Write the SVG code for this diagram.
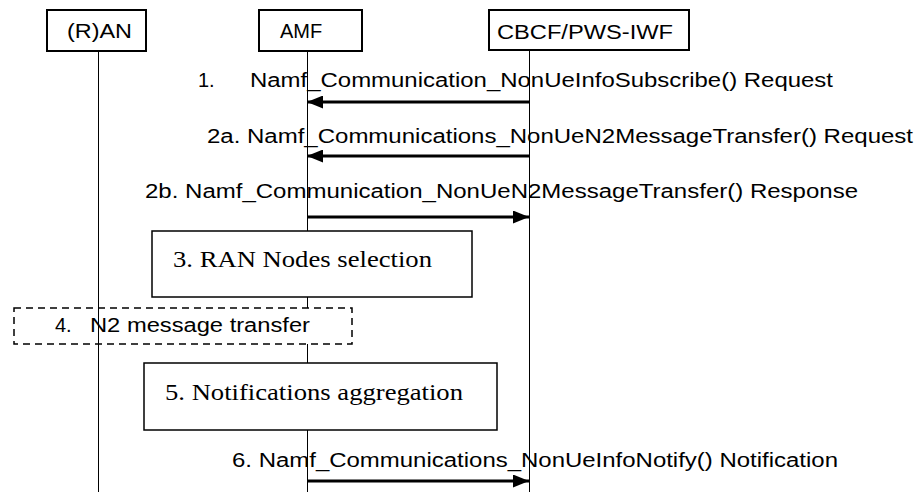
<svg xmlns="http://www.w3.org/2000/svg" width="920" height="492" viewBox="0 0 920 492">
<style>
.hdr{fill:#fff;stroke:#000;stroke-width:2}
.box{fill:#fff;stroke:#000;stroke-width:1.5}
.dbox{fill:#fff;stroke:#000;stroke-width:1.5;stroke-dasharray:7 5}
.life{stroke:#000;stroke-width:1;fill:none}
.msg{stroke:#000;stroke-width:3;fill:none}
.s{font-family:"Liberation Sans",Arial,sans-serif;font-size:20px;fill:#000}
.t{font-family:"Liberation Serif","Times New Roman",serif;font-size:24px;fill:#000}
</style>
<defs>
<marker id="ah" viewBox="0 0 16 13" refX="16" refY="6.5" markerWidth="16" markerHeight="13" markerUnits="userSpaceOnUse" orient="auto">
<path d="M0,0 L16,6.5 L0,13 Z" fill="#000"/>
</marker>
</defs>
<g id="lifeline-amf"><line class="life" x1="307.5" y1="51" x2="307.5" y2="492"/></g>
<g id="ran"><rect class="hdr" x="47" y="10" width="99" height="41"/><text class="s" x="67" y="38" textLength="65" lengthAdjust="spacingAndGlyphs">(R)AN</text></g>
<g id="amf"><rect class="hdr" x="259" y="10" width="103" height="41"/><text class="s" x="280" y="38">AMF</text></g>
<g id="cbcf"><rect class="hdr" x="489" y="10" width="200" height="40"/><text class="s" x="497" y="39" textLength="176" lengthAdjust="spacingAndGlyphs">CBCF/PWS-IWF</text></g>
<g id="step3"><rect class="box" x="152" y="231" width="320" height="66"/><text class="t" x="173" y="267" textLength="259" lengthAdjust="spacingAndGlyphs">3. RAN Nodes selection</text></g>
<g id="step4"><rect class="dbox" x="14" y="308" width="338" height="36"/><text class="s" x="55" y="332"><tspan x="55">4.</tspan><tspan x="90" textLength="220" lengthAdjust="spacingAndGlyphs">N2 message transfer</tspan></text></g>
<g id="step5"><rect class="box" x="144" y="363" width="353" height="67"/><text class="t" x="165" y="400" textLength="298" lengthAdjust="spacingAndGlyphs">5. Notifications aggregation</text></g>
<g id="lifeline-ran"><line class="life" x1="98.5" y1="51" x2="98.5" y2="492"/></g>
<g id="lifeline-cbcf"><line class="life" x1="529.5" y1="50" x2="529.5" y2="492"/></g>
<g id="labels">
<text class="s" y="87"><tspan x="198">1.</tspan><tspan x="250" textLength="583" lengthAdjust="spacingAndGlyphs">Namf_Communication_NonUeInfoSubscribe() Request</tspan></text>
<text class="s" x="207" y="143" textLength="706" lengthAdjust="spacingAndGlyphs">2a. Namf_Communications_NonUeN2MessageTransfer() Request</text>
<text class="s" x="145" y="198" textLength="713" lengthAdjust="spacingAndGlyphs">2b. Namf_Communication_NonUeN2MessageTransfer() Response</text>
<text class="s" x="232" y="467" textLength="606" lengthAdjust="spacingAndGlyphs">6. Namf_Communications_NonUeInfoNotify() Notification</text>
</g>
<g id="connectors">
<line class="msg" x1="529" y1="102" x2="307" y2="102" marker-end="url(#ah)"/>
<line class="msg" x1="529" y1="156" x2="307" y2="156" marker-end="url(#ah)"/>
<line class="msg" x1="308" y1="217" x2="529" y2="217" marker-end="url(#ah)"/>
<line class="msg" x1="308" y1="481" x2="529" y2="481" marker-end="url(#ah)"/>
</g>
</svg>
